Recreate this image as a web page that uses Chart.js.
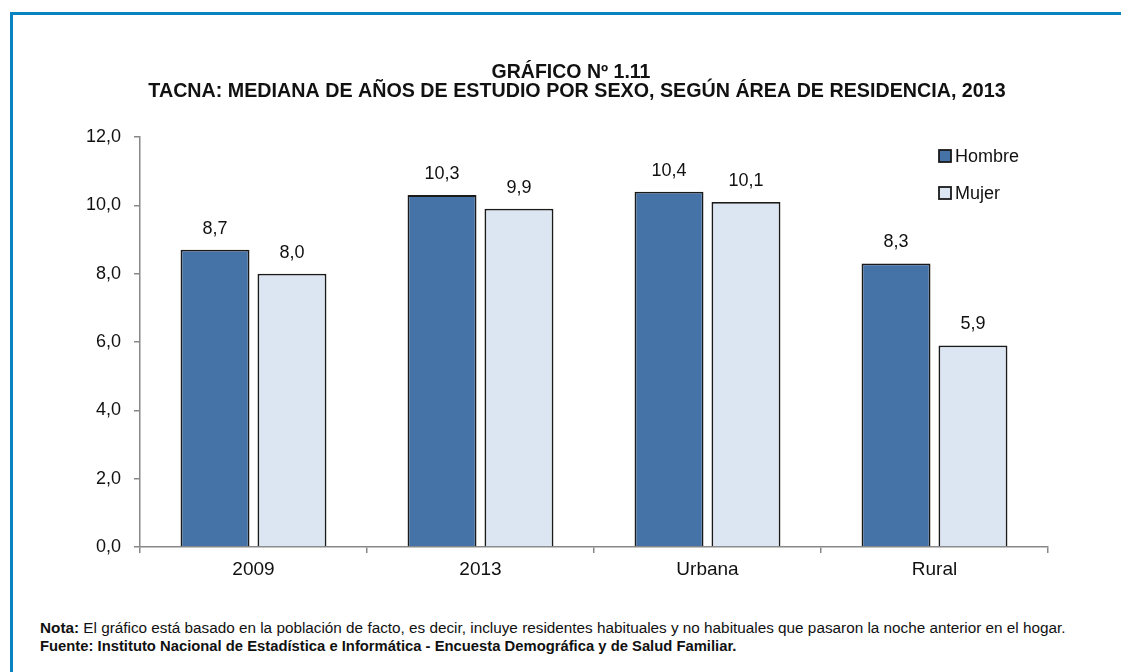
<!DOCTYPE html>
<html><head><meta charset="utf-8">
<script src="https://cdn.jsdelivr.net/npm/chart.js@4"></script>
<style>
html,body{margin:0;padding:0;background:#fff;width:1121px;height:672px;overflow:hidden;}
#frame{position:absolute;left:10px;top:12px;width:1200px;height:700px;border-left:3px solid #0a84c1;border-top:3px solid #0a84c1;}
#wrap{position:absolute;left:0;top:0;width:1121px;height:600px;}
.note{position:absolute;left:40px;font-family:'Liberation Sans Narrow','Arial Narrow','Liberation Sans',Arial,sans-serif;font-size:15.3px;color:#111;white-space:nowrap;}
</style></head>
<body>
<div id="frame"></div>
<div id="wrap"><canvas id="c" width="1121" height="600"></canvas></div>
<div class="note" style="top:619px"><b>Nota:</b> El gráfico está basado en la población de facto, es decir, incluye residentes habituales y no habituales que pasaron la noche anterior en el hogar.</div>
<div class="note" style="top:638px;font-size:14.8px"><b>Fuente: Instituto Nacional de Estadística e Informática - Encuesta Demográfica y de Salud Familiar.</b></div>
<script>
const categories = ['2009', '2013', 'Urbana', 'Rural'];
const hombre = [8.7, 10.3, 10.4, 8.3];
const mujer = [8.0, 9.9, 10.1, 5.9];
const seriesNames = ['Hombre', 'Mujer'];
const titleLines = ['GRÁFICO Nº 1.11', 'TACNA: MEDIANA DE AÑOS DE ESTUDIO POR SEXO, SEGÚN ÁREA DE RESIDENCIA, 2013'];
const yMin = 0, yMax = 12, yStep = 2;

const FONT = "'Liberation Sans Narrow','Arial Narrow','Liberation Sans',Arial,sans-serif";
const fmt = v => v.toFixed(1).replace('.', ',');

const chartTitle = {
  id: 'chartTitle',
  afterDraw(chart) {
    const ctx = chart.ctx;
    ctx.save();
    ctx.fillStyle = '#111';
    ctx.textAlign = 'center';
    ctx.textBaseline = 'alphabetic';
    ctx.font = 'bold 19.5px ' + FONT;
    ctx.fillText(titleLines[0], 571, 78);
    ctx.font = 'bold 19.7px ' + FONT;
    ctx.fillText(titleLines[1], 577, 97);
    ctx.restore();
  }
};

const valueLabels = {
  id: 'valueLabels',
  afterDatasetsDraw(chart) {
    const ctx = chart.ctx;
    ctx.save();
    ctx.font = '18px ' + FONT;
    ctx.fillStyle = '#111';
    ctx.textAlign = 'center';
    ctx.textBaseline = 'middle';
    chart.data.datasets.forEach((ds, i) => {
      chart.getDatasetMeta(i).data.forEach((bar, j) => {
        ctx.fillText(fmt(ds.data[j]), bar.x, bar.y - 21);
      });
    });
    ctx.restore();
  }
};

const sideLegend = {
  id: 'sideLegend',
  afterDraw(chart) {
    const ctx = chart.ctx;
    ctx.save();
    ctx.font = '18px ' + FONT;
    ctx.textBaseline = 'middle';
    const x0 = 939, y0 = 156, gap = 37;
    chart.data.datasets.forEach((ds, i) => {
      const y = y0 + i * gap;
      ctx.fillStyle = ds.backgroundColor;
      ctx.fillRect(x0, y - 6, 12, 12);
      ctx.lineWidth = 1.8;
      ctx.strokeStyle = '#1a1a1a';
      ctx.strokeRect(x0, y - 6, 12, 12);
      ctx.fillStyle = '#111';
      ctx.fillText(ds.label, x0 + 16, y + 1);
    });
    ctx.restore();
  }
};

new Chart(document.getElementById('c'), {
  type: 'bar',
  data: {
    labels: categories,
    datasets: [
      { label: seriesNames[0], data: hombre, backgroundColor: '#4572A7', borderColor: '#1a1a1a', borderWidth: 1.8, categoryPercentage: 0.678, barPercentage: 0.896 },
      { label: seriesNames[1], data: mujer, backgroundColor: '#DCE6F2', borderColor: '#1a1a1a', borderWidth: 1.8, categoryPercentage: 0.678, barPercentage: 0.896 }
    ]
  },
  options: {
    responsive: false,
    animation: false,
    layout: { padding: { left: 0, right: 73, top: 137, bottom: 0 } },
    plugins: {
      legend: { display: false },
      tooltip: { enabled: false },
      title: { display: false }
    },
    scales: {
      x: {
        grid: { display: true, drawOnChartArea: false, offset: true, tickLength: 6, color: '#888', lineWidth: 1.5 },
        border: { color: '#888', width: 1.5 },
        ticks: { color: '#111', font: { family: FONT, size: 19 }, padding: 5 },
        afterFit(s) { s.height = 600 - 547; }
      },
      y: {
        min: yMin, max: yMax,
        grid: { display: true, drawOnChartArea: false, tickLength: 6, color: '#888', lineWidth: 1.5 },
        border: { color: '#888', width: 1.5 },
        ticks: { stepSize: yStep, color: '#111', font: { family: FONT, size: 18 }, padding: 13, callback: v => fmt(v) },
        afterFit(s) { s.width = 140; }
      }
    }
  },
  plugins: [valueLabels, sideLegend, chartTitle]
});
</script>
</body></html>
